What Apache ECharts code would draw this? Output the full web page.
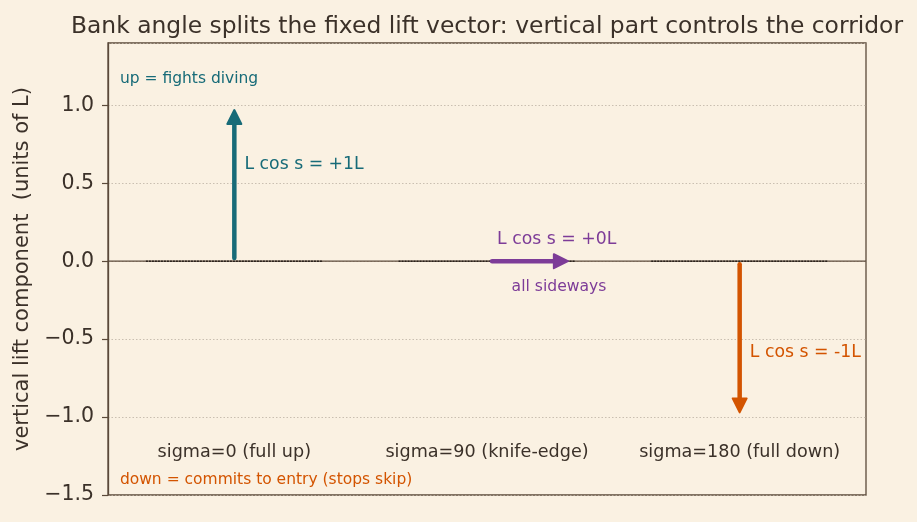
<!DOCTYPE html>
<html>
<head>
<meta charset="utf-8">
<script src="https://cdn.jsdelivr.net/npm/echarts@6/dist/echarts.min.js"></script>
<style>
html,body{margin:0;padding:0;background:#faf1e2;}
#chart{width:917px;height:522px;}
</style>
</head>
<body>
<div id="chart"></div>
<script>
// ---- data ----
const categories = ['sigma=0 (full up)', 'sigma=90 (knife-edge)', 'sigma=180 (full down)'];
const categoryX = [0, 1, 2];
const verticalComponent = [1, 0, -1];
const sidewaysComponent = [0, 0.35, 0];
const arrowLabels = ['L cos s = +1L', 'L cos s = +0L', 'L cos s = -1L'];
const yTicks = [-1.5, -1.0, -0.5, 0.0, 0.5, 1.0];
const noteUp = 'up = fights diving';
const noteDown = 'down = commits to entry (stops skip)';
const noteSideways = 'all sideways';
const titleText = 'Bank angle splits the fixed lift vector: vertical part controls the corridor';
const yAxisTitle = 'vertical lift component  (units of L)';

const colors = ['#176b78', '#7d3c98', '#d35400'];
const ink = '#3b3129';
const axisCol = '#5b4a3a';
const FONT = 'DejaVu Sans';

const chart = echarts.init(document.getElementById('chart'), null, {renderer: 'canvas'});

// arrows: start / end in data units, slightly shrunk like matplotlib annotate
const shrink = 0.02;
const arrowData = categoryX.map((x, i) => {
  const dx = sidewaysComponent[i], dy = verticalComponent[i];
  const len = Math.hypot(dx, dy) || 1;
  const ux = dx / len, uy = dy / len;
  return [x + ux * shrink, uy * shrink, x + dx - ux * shrink * 1.5, dy - uy * shrink * 1.5, i];
});

function renderArrow(params, api) {
  const p0 = api.coord([api.value(0), api.value(1)]);
  const p1 = api.coord([api.value(2), api.value(3)]);
  const col = colors[api.value(4)];
  const vx = p1[0] - p0[0], vy = p1[1] - p0[1];
  const L = Math.hypot(vx, vy);
  const ux = vx / L, uy = vy / L;
  const nx = -uy, ny = ux;
  const headLen = 14, headW = 7;
  const bx = p1[0] - ux * headLen, by = p1[1] - uy * headLen;
  return {
    type: 'group',
    children: [
      {type: 'line', shape: {x1: p0[0], y1: p0[1], x2: bx + ux * 2, y2: by + uy * 2},
       style: {stroke: col, lineWidth: 4.5, lineCap: 'round'}},
      {type: 'polygon', shape: {points: [[p1[0], p1[1]], [bx + nx * headW, by + ny * headW], [bx - nx * headW, by - ny * headW]]},
       style: {fill: col, stroke: col, lineWidth: 2, lineJoin: 'round'}}
    ]
  };
}

const baselineSeries = categoryX.map((x) => ({
  type: 'line',
  data: [[x - 0.35, 0], [x + 0.35, 0]],
  symbol: 'none',
  lineStyle: {color: '#2a221c', width: 1.5, type: [2, 1]},
  z: 3, silent: true
}));

const textItems = [
  {value: [categoryX[0] + 0.04, 0.62], text: arrowLabels[0], color: colors[0], size: 17.3, align: 'left'},
  {value: [categoryX[1] + 0.04, 0.137], text: arrowLabels[1], color: colors[1], size: 17.3, align: 'left'},
  {value: [categoryX[1] + 0.285, -0.163], text: noteSideways, color: colors[1], size: 15.6, align: 'center'},
  {value: [categoryX[2] + 0.04, -0.587], text: arrowLabels[2], color: colors[2], size: 17.3, align: 'left'},
  {value: [categoryX[0], -1.226], text: categories[0], color: ink, size: 17.6, align: 'center'},
  {value: [categoryX[1], -1.226], text: categories[1], color: ink, size: 17.6, align: 'center'},
  {value: [categoryX[2], -1.226], text: categories[2], color: ink, size: 17.6, align: 'center'},
  {value: [-0.453, 1.17], text: noteUp, color: colors[0], size: 15.5, align: 'left'},
  {value: [-0.453, -1.406], text: noteDown, color: colors[2], size: 15.5, align: 'left'}
];

const option = {
  backgroundColor: '#faf1e2',
  animation: false,
  title: {
    text: titleText, left: 482, top: 10, textAlign: 'center',
    textStyle: {fontFamily: FONT, fontSize: 23.4, fontWeight: 'normal', color: ink}
  },
  grid: {left: 108, right: 51, top: 43, bottom: 27, show: true, borderColor: axisCol, borderWidth: 1.3, backgroundColor: 'transparent'},
  xAxis: {
    type: 'value', min: -0.5, max: 2.5, show: true,
    axisLine: {show: false}, axisTick: {show: false}, axisLabel: {show: false}, splitLine: {show: false}
  },
  yAxis: {
    type: 'value', min: yTicks[0], max: 1.4, interval: 0.5,
    name: yAxisTitle, nameLocation: 'middle', nameGap: 74,
    nameTextStyle: {fontFamily: FONT, fontSize: 21, color: ink},
    axisLine: {show: true, onZero: false, lineStyle: {color: axisCol, width: 1.3}},
    axisTick: {show: true, length: 6, lineStyle: {color: axisCol, width: 1.2}},
    axisLabel: {
      fontFamily: FONT, fontSize: 20.5, color: ink, margin: 14, showMaxLabel: false,
      padding: [4, 0, 0, 0],
      formatter: (v) => (yTicks.some(t => Math.abs(t - v) < 1e-9) ? v.toFixed(1).replace('-', '\u2212') : '')
    },
    splitLine: {show: true, lineStyle: {color: '#bdb3a4', width: 0.8, type: [1.5, 2]}}
  },
  series: [
    {
      type: 'line', data: [[-0.5, 0], [2.5, 0]], symbol: 'none',
      lineStyle: {color: axisCol, width: 1.3}, z: 2, silent: true
    },
    ...baselineSeries,
    {
      type: 'custom', renderItem: renderArrow, data: arrowData,
      encode: {x: [0, 2], y: [1, 3]}, z: 5, silent: true
    },
    {
      type: 'scatter', symbolSize: 0, z: 6, silent: true,
      itemStyle: {opacity: 1},
      data: textItems.map(t => ({
        value: t.value,
        label: {
          show: true, position: 'inside', formatter: t.text, color: t.color, opacity: 1,
          fontFamily: FONT, fontSize: t.size, align: t.align, verticalAlign: 'middle'
        }
      }))
    }
  ]
};
chart.setOption(option);
</script>
</body>
</html>
